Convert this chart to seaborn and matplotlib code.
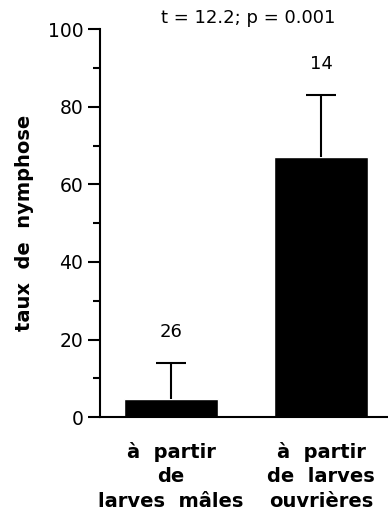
import numpy as np
import pandas as pd
import matplotlib.pyplot as plt
import seaborn as sns

# data
categories = ["à  partir\nde\nlarves  mâles", "à  partir\nde  larves\nouvrières"]
means = [4.6, 67.0]
errors = [9.3, 16.0]
counts = ["26", "14"]
title = "t = 12.2; p = 0.001"

sns.set_style("ticks")
plt.rcParams['font.family'] = ['DejaVu Sans']
plt.rcParams['text.color'] = 'black'
plt.rcParams['xtick.color'] = 'black'
plt.rcParams['ytick.color'] = 'black'
plt.rcParams['axes.labelcolor'] = 'black'
plt.rcParams['axes.edgecolor'] = 'black'

df = pd.DataFrame({'groupe': categories, 'taux': means})

fig = plt.figure(figsize=(3.88, 5.13), dpi=100)
ax = fig.add_axes([0.258, 0.187, 0.742, 0.756])

sns.barplot(data=df, x='groupe', y='taux', color='black', width=0.63,
            errorbar=None, ax=ax, saturation=1)
eb = ax.errorbar(range(len(means)), means, yerr=[np.zeros(len(errors)), errors],
                 fmt='none', ecolor='black', elinewidth=1.5, capsize=11, capthick=1.5)
# only the upper caps
eb[1][0].set_visible(False)

for i, c in enumerate(counts):
    ax.text(i, means[i] + errors[i] + 8, c, ha='center', va='center', fontsize=13)

ax.set_xlim(-0.473, 1.447)
ax.set_ylim(0, 100)
ax.set_yticks([0, 20, 40, 60, 80, 100])
ax.set_yticks([10, 30, 50, 70, 90], minor=True)
ax.tick_params(axis='y', which='major', length=9, width=1.5, labelsize=13.5, pad=3)
ax.tick_params(axis='y', which='minor', length=5, width=1.5)
ax.tick_params(axis='x', length=0, labelsize=14, pad=18)
for lab in ax.get_xticklabels():
    lab.set_fontweight('bold')
    lab.set_linespacing(1.35)
ax.set_xlabel('')
ax.set_ylabel('taux  de  nymphose', fontsize=14, fontweight='bold', labelpad=10)
ax.spines['top'].set_visible(False)
ax.spines['right'].set_visible(False)
ax.spines['left'].set_linewidth(1.5)
ax.spines['bottom'].set_linewidth(1.5)

fig.text(0.64, 0.965, title, ha='center', va='center', fontsize=13)

fig.savefig('out.png', dpi=100)
